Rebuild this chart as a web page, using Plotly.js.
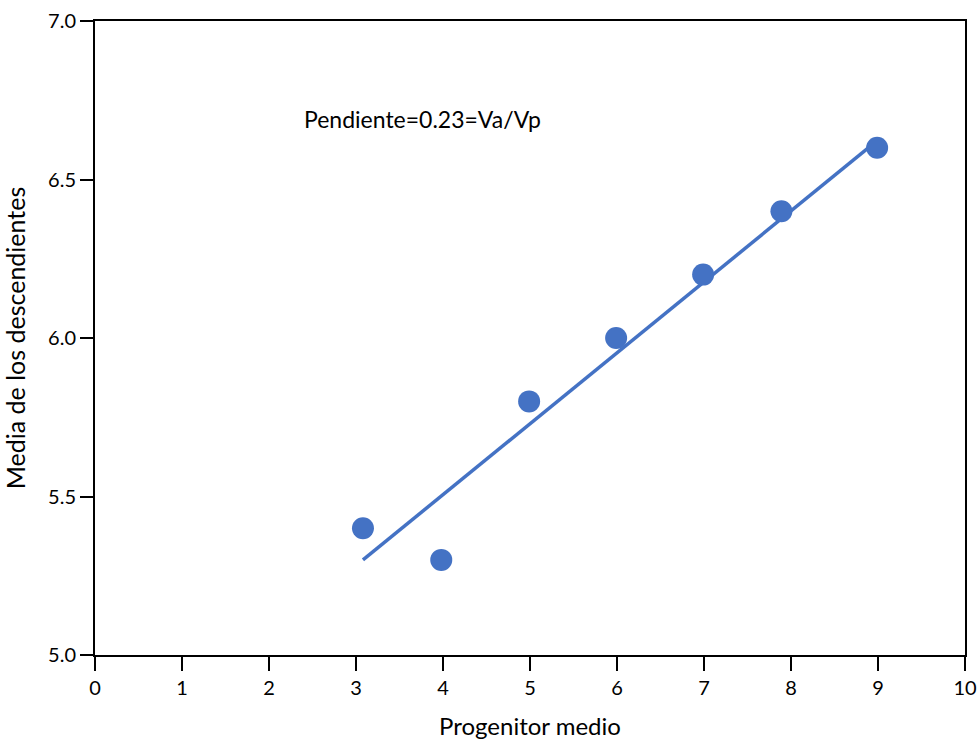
<!DOCTYPE html>
<html>
<head>
<meta charset="utf-8">
<script src="https://cdn.plot.ly/plotly-3.0.1.min.js"></script>
<style>html,body{margin:0;padding:0;background:#fff;}#chart{width:979px;height:740px;}</style>
</head>
<body>
<div id="chart"></div>
<script>
const pointX = [3.08, 3.98, 4.99, 5.99, 6.99, 7.89, 8.99];
const pointY = [5.40, 5.30, 5.80, 6.00, 6.20, 6.40, 6.60];
const fitX = [3.08, 8.98];
const fitY = [5.30, 6.62];
const xTicks = [0,1,2,3,4,5,6,7,8,9,10];
const yTicks = [5.0, 5.5, 6.0, 6.5, 7.0];
const yTickText = ['5.0','5.5','6.0','6.5','7.0'];
const blue = '#4472C4';
const fontFam = 'Lato, "Open Sans", sans-serif';

const traces = [
  {x: fitX, y: fitY, mode: 'lines', line: {color: blue, width: 3.5}, hoverinfo: 'skip', cliponaxis: false},
  {x: pointX, y: pointY, mode: 'markers', marker: {color: blue, size: 22, line: {width: 0}}, cliponaxis: false}
];
const layout = {
  width: 979, height: 740,
  margin: {l: 95, r: 14, t: 21, b: 85},
  showlegend: false,
  paper_bgcolor: '#fff', plot_bgcolor: '#fff',
  font: {family: fontFam, color: '#000', size: 20},
  xaxis: {
    range: [0, 10], tickvals: xTicks, ticktext: xTicks.map(String),
    showgrid: false, zeroline: false, showline: true, linecolor: '#000', linewidth: 2, mirror: true,
    ticks: 'outside', ticklen: 14, tickwidth: 2, tickcolor: '#000',
    tickfont: {size: 20, family: fontFam},
    title: {text: 'Progenitor medio', font: {size: 24, family: fontFam}, standoff: 26}
  },
  yaxis: {
    range: [5.0, 7.0], tickvals: yTicks, ticktext: yTickText,
    showgrid: false, zeroline: false, showline: true, linecolor: '#000', linewidth: 2, mirror: true,
    ticks: 'outside', ticklen: 13, tickwidth: 2, tickcolor: '#000',
    tickfont: {size: 20, family: fontFam},
    title: {text: 'Media de los descendientes', font: {size: 25, family: fontFam}, standoff: 18}
  },
  annotations: [{
    x: 2.38, y: 6.69, xref: 'x', yref: 'y', xanchor: 'left', yanchor: 'middle',
    text: 'Pendiente=0.23=Va/Vp', showarrow: false, font: {size: 23, family: fontFam, color: '#000'}
  }]
};
Plotly.newPlot('chart', traces, layout, {displayModeBar: false, staticPlot: true});
</script>
</body>
</html>
